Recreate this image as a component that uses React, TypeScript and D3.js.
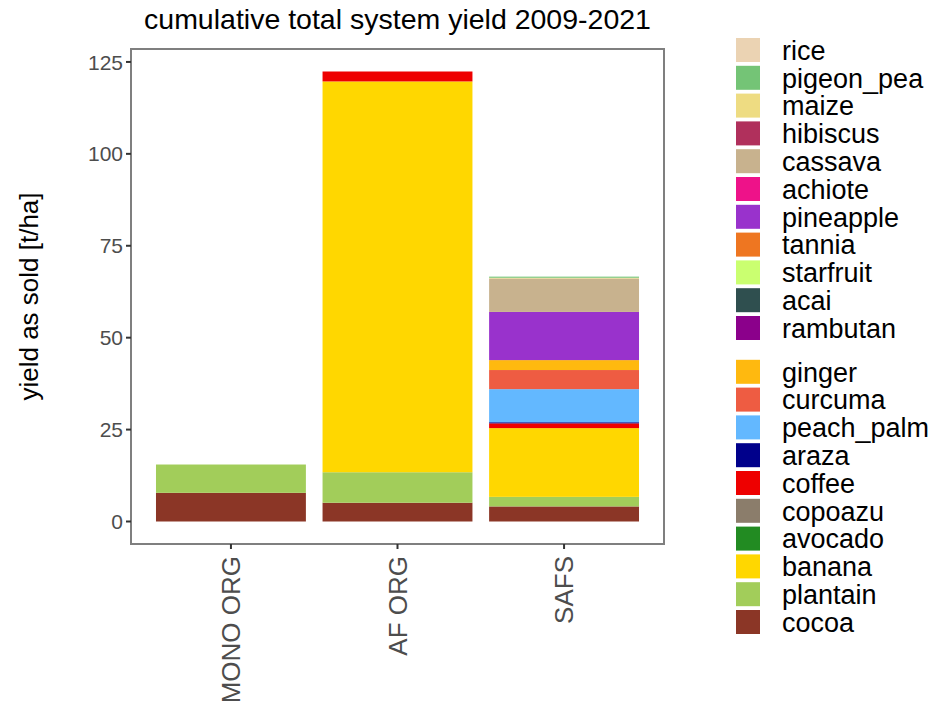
import React from "react";
import * as d3 from "d3";

const systems = ["MONO ORG", "AF ORG", "SAFS"];

// values per crop, in the order of systems: [MONO ORG, AF ORG, SAFS]
const rice = [0, 0, 0];
const pigeon_pea = [0, 0, 0.3];
const maize = [0, 0, 0.2];
const hibiscus = [0, 0, 0];
const cassava = [0, 0, 9.1];
const achiote = [0, 0, 0];
const pineapple = [0, 0, 13.1];
const tannia = [0, 0, 0];
const starfruit = [0, 0, 0];
const acai = [0, 0, 0];
const rambutan = [0, 0, 0];
const ginger = [0, 0, 2.7];
const curcuma = [0, 0, 5.2];
const peach_palm = [0, 0, 9.0];
const araza = [0, 0, 0.3];
const coffee = [0, 2.7, 1.3];
const copoazu = [0, 0, 0];
const avocado = [0, 0, 0];
const banana = [0, 106.3, 18.7];
const plantain = [7.7, 8.3, 2.6];
const cocoa = [7.8, 5.1, 4.1];

// legend order (top to bottom); stacking goes bottom (cocoa) to top (rice)
const crops = [
  "rice", "pigeon_pea", "maize", "hibiscus", "cassava", "achiote", "pineapple",
  "tannia", "starfruit", "acai", "rambutan",
  "ginger", "curcuma", "peach_palm", "araza", "coffee", "copoazu", "avocado",
  "banana", "plantain", "cocoa",
];
const cropValues: Record<string, number[]> = {
  rice, pigeon_pea, maize, hibiscus, cassava, achiote, pineapple, tannia,
  starfruit, acai, rambutan, ginger, curcuma, peach_palm, araza, coffee,
  copoazu, avocado, banana, plantain, cocoa,
};
const cropColors = [
  "#EBD3B3", "#74C476", "#EEDC82", "#B0305C", "#C8B28E", "#EE1289", "#9932CC",
  "#EE7621", "#CAFF70", "#2F4F4F", "#8B008B",
  "#FFB90F", "#EE5C42", "#63B8FF", "#00008B", "#EE0000", "#8B7D6B", "#228B22",
  "#FFD700", "#A2CD5A", "#8B3626",
];
const yTicks = [0, 25, 50, 75, 100, 125];

const FONT = "'Liberation Sans', Arial, sans-serif";

export default function App() {
  const W = 944, H = 712;
  const panel = { left: 131, right: 664, top: 49, bottom: 544 };

  const rows = systems.map((s, i) => {
    const r: Record<string, any> = { system: s };
    crops.forEach((c) => (r[c] = cropValues[c][i]));
    return r;
  });
  const stackKeys = [...crops].reverse();
  const series = d3.stack<any>().keys(stackKeys)(rows);
  const maxTotal = d3.max(rows, (r) => d3.sum(crops, (c) => r[c])) as number;
  const pad = maxTotal * 0.05;

  const y = d3.scaleLinear().domain([-pad, maxTotal + pad]).range([panel.bottom, panel.top]);
  const x = d3.scaleBand().domain(systems).range([panel.left, panel.right]).paddingInner(0.1).paddingOuter(0.15);
  const color = d3.scaleOrdinal<string, string>().domain(crops).range(cropColors);

  const legendX = 736;
  const keyH = 24;
  const step = 27.8;
  const legendY = (i: number) => 38 + i * step + (i >= 11 ? 16 : 0);

  return (
    <svg width={W} height={H} style={{ display: "block", position: "absolute", left: 0, top: 0, background: "#fff" }} fontFamily={FONT}>
      <rect x={0} y={0} width={W} height={H} fill="#fff" />
      <text x={(panel.left + panel.right) / 2} y={29} textAnchor="middle" fontSize={28.5} fill="#000">
        cumulative total system yield 2009-2021
      </text>

      {/* bars */}
      {series.map((s) => (
        <g key={s.key} fill={color(s.key)}>
          {s.map((d, i) =>
            d[1] - d[0] > 0 ? (
              <rect
                key={i}
                x={x(systems[i])}
                width={x.bandwidth()}
                y={y(d[1])}
                height={y(d[0]) - y(d[1])}
              />
            ) : null
          )}
        </g>
      ))}

      {/* panel border */}
      <rect
        x={panel.left}
        y={panel.top}
        width={panel.right - panel.left}
        height={panel.bottom - panel.top}
        fill="none"
        stroke="#7F7F7F"
        strokeWidth={2}
      />

      {/* y axis */}
      {yTicks.map((t) => (
        <g key={t}>
          <line x1={panel.left - 5} x2={panel.left} y1={y(t)} y2={y(t)} stroke="#333" strokeWidth={2} />
          <text x={panel.left - 8} y={y(t)} dy="0.36em" textAnchor="end" fontSize={21} fill="#4D4D4D">
            {t}
          </text>
        </g>
      ))}
      <text
        transform={`translate(38, ${(panel.top + panel.bottom) / 2}) rotate(-90)`}
        textAnchor="middle"
        fontSize={26}
        fill="#000"
      >
        yield as sold [t/ha]
      </text>

      {/* x axis */}
      {systems.map((s) => {
        const cx = (x(s) as number) + x.bandwidth() / 2;
        return (
          <g key={s}>
            <line x1={cx} x2={cx} y1={panel.bottom} y2={panel.bottom + 5} stroke="#333" strokeWidth={2} />
            <text
              transform={`translate(${cx}, ${panel.bottom + 12}) rotate(-90)`}
              textAnchor="end"
              dy="0.36em"
              fontSize={26}
              fill="#4D4D4D"
            >
              {s}
            </text>
          </g>
        );
      })}

      {/* legend */}
      {crops.map((c, i) => (
        <g key={c} transform={`translate(${legendX}, ${legendY(i)})`}>
          <rect x={0} y={0} width={24} height={keyH} fill={color(c)} />
          <text x={46} y={keyH / 2} dy="0.36em" fontSize={27} fill="#000">
            {c}
          </text>
        </g>
      ))}
    </svg>
  );
}
